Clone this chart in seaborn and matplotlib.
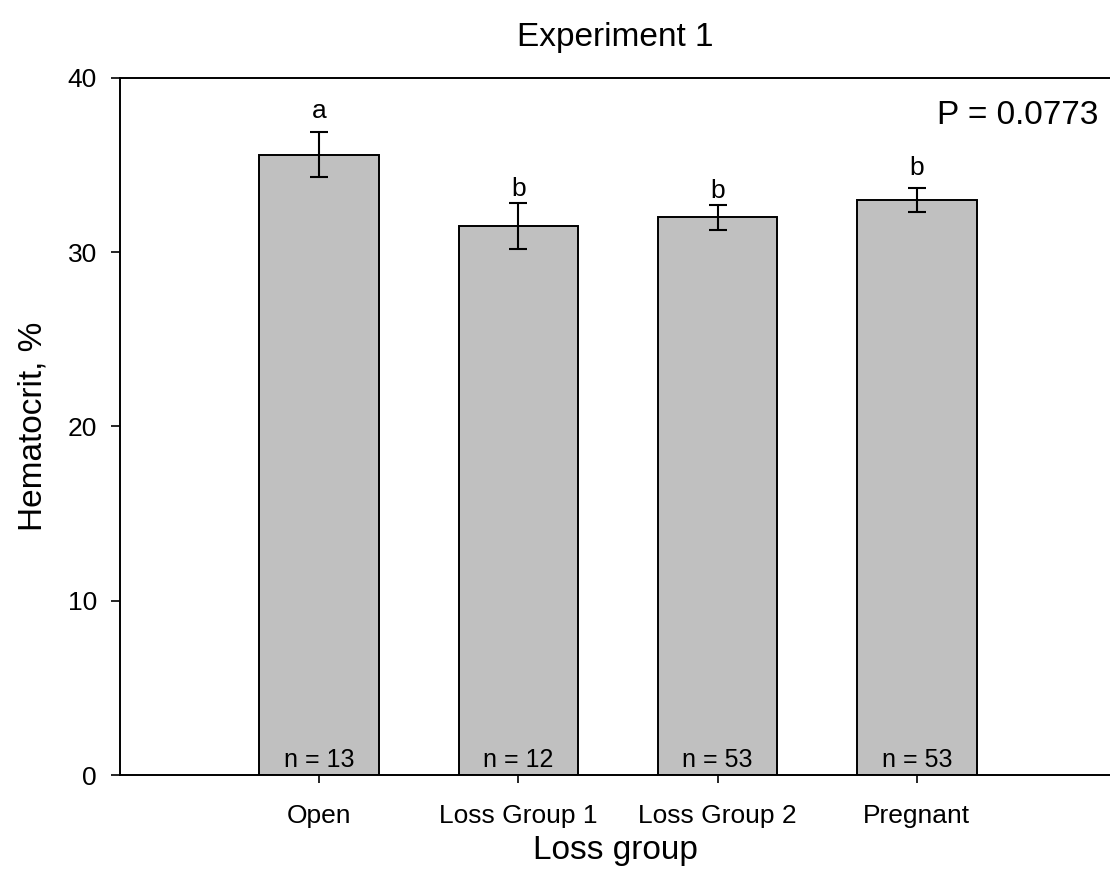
import matplotlib
matplotlib.use("Agg")
import matplotlib.pyplot as plt
import seaborn as sns
import pandas as pd

# Hematocrit by loss group (mean ± SE)
groups = ["Open", "Loss Group 1", "Loss Group 2", "Pregnant"]
means = [35.6, 31.5, 32.0, 33.0]
errors = [1.3, 1.3, 0.7, 0.7]
letters = ["a", "b", "b", "b"]
letter_gap = [0.8, 0.42, 0.42, 0.75]
counts = [13, 12, 53, 53]
p_text = "P = 0.0773"

sns.set_style("ticks")
plt.rcParams["font.family"] = ["Liberation Sans", "DejaVu Sans"]
plt.rcParams.update({
    "text.color": "black",
    "axes.labelcolor": "black",
    "xtick.color": "black",
    "ytick.color": "black",
    "axes.edgecolor": "black",
})

df = pd.DataFrame({"group": groups, "mean": means})

fig = plt.figure(figsize=(11.1, 8.94), dpi=100)
ax = fig.add_axes([0.1081, 0.1331, 0.8919, 0.7797])

sns.barplot(data=df, x="group", y="mean", color="#c0c0c0", saturation=1,
            edgecolor="black", linewidth=1.4, width=0.6, errorbar=None, ax=ax)

xs = list(range(len(groups)))
ax.errorbar(xs, means, yerr=errors, fmt="none", ecolor="black",
            elinewidth=1.5, capsize=6.8, capthick=1.5, zorder=3)

for x, m, e, lt, g in zip(xs, means, errors, letters, letter_gap):
    ax.text(x, m + e + g, lt, ha="center", va="baseline", fontsize=19)

for x, n in zip(xs, counts):
    ax.text(x, 0.45, f"n = {n}", ha="center", va="baseline", fontsize=18)

ax.text(3.91, 37.35, p_text, ha="right", va="baseline", fontsize=24)

ax.set_xlim(-1, 3.97)
ax.set_ylim(0, 40)
ax.set_yticks([0, 10, 20, 30, 40])

for side in ["left", "bottom", "top"]:
    ax.spines[side].set_visible(True)
    ax.spines[side].set_linewidth(1.4)
ax.spines["right"].set_visible(False)

ax.tick_params(axis="y", direction="out", length=6.5, width=1.2, labelsize=19, pad=10)
ax.tick_params(axis="x", direction="out", length=6, width=1.2, labelsize=19, pad=15)

ax.set_xlabel("Loss group", fontsize=24, labelpad=5)
ax.set_ylabel("Hematocrit, %", fontsize=24, labelpad=14)
ax.set_title("Experiment 1", fontsize=24, pad=23)

fig.savefig("out.png", dpi=100)
